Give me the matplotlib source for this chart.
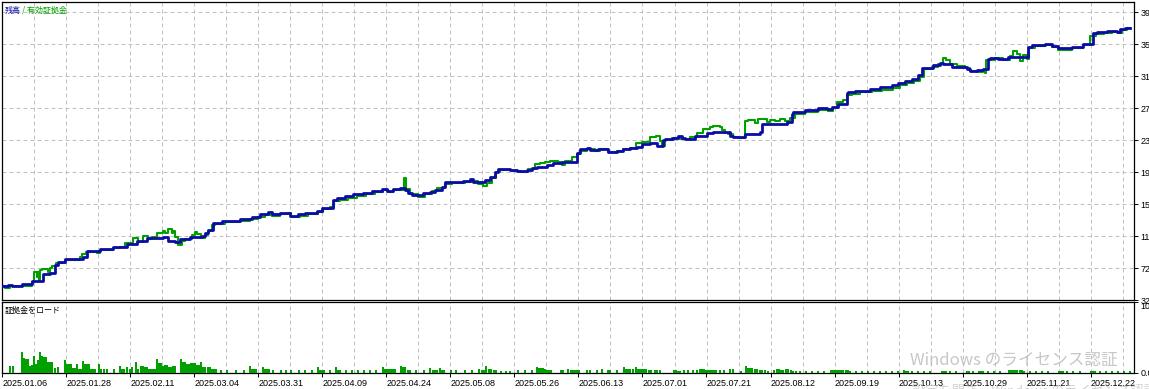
import numpy as np
import matplotlib
matplotlib.use("Agg")
import matplotlib.pyplot as plt

# balance / equity step points: (deal index, value in thousands)
balance_x = [0, 8, 12, 22, 32, 43, 50, 55, 58, 65, 83, 87, 100, 113, 127, 137, 147, 163, 168, 175,
             180, 190, 202, 205, 208, 213, 222, 240, 252, 260, 268, 272, 280, 290, 298, 305, 317, 322,
             333, 337, 345, 353, 363, 372, 382, 387, 393, 400, 405, 408, 412, 423, 430, 435, 442, 445,
             452, 463, 470, 473, 480, 485, 490, 495, 498, 510, 517, 527, 532, 537, 547, 553, 562, 572,
             577, 580, 587, 590, 598, 608, 617, 623, 630, 637, 642, 650, 657, 663, 665, 673, 678, 682,
             685, 695, 707, 713, 727, 730, 733, 745, 760, 762, 787, 792, 793, 805, 818, 827, 832, 838,
             847, 848, 855, 870, 880, 892, 898, 905, 912, 918, 922, 933, 940, 943, 952, 957, 967, 970,
             977, 983, 988, 990, 998, 1008, 1028, 1032, 1045, 1052, 1058, 1072, 1083, 1093, 1097, 1107,
             1117, 1120, 1125, 1130]
balance_y = [49.5, 50.8, 49.5, 52.0, 55.4, 64.5, 66.1, 75.8, 79.5, 82.9, 85.4, 93.3, 95.4, 98.6, 102.0,
             106.1, 109.1, 110.4, 106.1, 104.9, 107.9, 110.4, 112.0, 115.4, 119.5, 128.6, 130.8, 132.9,
             136.1, 139.5, 141.6, 139.5, 140.4, 137.0, 139.1, 141.1, 143.3, 146.6, 157.0, 159.1, 162.0,
             164.5, 166.1, 168.3, 170.8, 168.3, 170.8, 171.6, 169.5, 165.4, 163.6, 165.4, 166.6, 169.5,
             173.6, 179.1, 179.9, 181.1, 183.3, 179.9, 179.1, 182.0, 186.1, 191.6, 195.4, 194.5, 193.3,
             194.5, 196.6, 198.6, 200.8, 202.9, 204.1, 204.9, 215.8, 220.4, 221.6, 219.5, 220.4, 217.4,
             218.6, 220.4, 222.4, 223.6, 226.6, 227.9, 224.5, 232.0, 232.9, 234.9, 237.0, 234.1, 233.3,
             237.0, 240.4, 241.6, 242.4, 237.0, 236.1, 239.5, 241.6, 251.6, 254.6, 264.5, 266.6, 269.5,
             271.6, 270.4, 273.6, 277.0, 290.4, 291.6, 293.6, 295.8, 297.9, 300.4, 303.4, 306.3, 308.4,
             313.3, 322.4, 325.8, 328.6, 327.0, 323.6, 322.9, 320.8, 317.9, 320.0, 320.8, 332.9, 334.1,
             333.3, 335.4, 348.6, 350.8, 351.6, 349.5, 346.6, 347.9, 351.6, 365.4, 366.6, 368.3, 367.4,
             370.4, 372.4, 372.4]

equity_x = [0, 5, 10, 32, 34, 37, 38, 39, 40, 42, 48, 50, 52, 56, 65, 80, 82, 86, 97, 100, 113, 120, 125,
            133, 138, 143, 148, 152, 157, 163, 165, 168, 172, 173, 175, 178, 182, 185, 192, 195, 197, 201,
            205, 208, 212, 215, 225, 240, 250, 258, 265, 272, 280, 288, 291, 300, 308, 318, 323, 330, 334,
            340, 348, 357, 366, 375, 383, 388, 393, 404, 406, 410, 418, 425, 432, 437, 445, 452, 465, 472,
            478, 483, 487, 492, 496, 500, 512, 520, 528, 535, 540, 545, 550, 558, 562, 565, 572, 577, 580,
            587, 595, 600, 608, 617, 623, 630, 636, 642, 650, 656, 660, 662, 665, 672, 680, 690, 697, 703,
            710, 713, 720, 722, 725, 728, 733, 738, 745, 748, 755, 758, 767, 770, 775, 780, 785, 790, 795,
            805, 818, 828, 833, 837, 843, 847, 852, 860, 872, 882, 893, 900, 907, 914, 920, 924, 932, 938,
            943, 946, 950, 957, 965, 970, 977, 983, 985, 986, 995, 1003, 1010, 1013, 1017, 1020, 1023,
            1027, 1029, 1035, 1045, 1052, 1058, 1072, 1083, 1090, 1096, 1104, 1112, 1118, 1122, 1127, 1130]
equity_y = [49.5, 47.0, 49.5, 54.9, 67.4, 61.1, 67.4, 57.0, 69.5, 70.4, 67.4, 72.0, 74.5, 78.6, 82.0, 85.4,
            89.5, 92.4, 91.1, 94.5, 96.6, 98.6, 103.6, 109.1, 104.9, 112.0, 107.9, 110.4, 115.4, 118.6,
            116.1, 120.8, 115.4, 118.3, 111.1, 100.8, 106.1, 107.9, 113.3, 117.4, 114.5, 109.6, 113.8,
            118.3, 125.8, 127.6, 129.5, 130.8, 133.3, 135.8, 138.3, 137.6, 138.9, 140.8, 135.8, 137.6,
            139.5, 142.0, 145.8, 148.3, 155.8, 157.6, 160.1, 162.6, 165.1, 167.0, 168.9, 167.0, 169.5,
            184.1, 170.8, 164.5, 161.1, 163.9, 168.3, 172.0, 177.0, 178.3, 179.5, 180.8, 177.0, 174.5,
            178.3, 184.5, 192.0, 194.5, 193.3, 192.0, 195.6, 202.5, 203.4, 204.4, 206.3, 204.4, 200.4,
            205.6, 211.3, 215.0, 218.4, 220.5, 218.6, 220.5, 216.9, 218.1, 220.5, 221.8, 228.6, 229.6,
            235.5, 236.8, 230.5, 224.1, 231.8, 234.6, 233.1, 235.5, 240.5, 245.5, 248.0, 249.1, 248.0,
            244.8, 241.0, 239.4, 235.5, 235.1, 255.4, 257.5, 253.4, 257.9, 254.5, 257.0, 255.8, 258.3,
            255.8, 259.5, 264.5, 267.0, 269.5, 268.3, 272.0, 279.9, 282.0, 288.3, 289.5, 291.4, 293.3,
            295.1, 297.6, 300.8, 303.3, 305.8, 310.8, 320.8, 323.3, 327.0, 334.6, 332.5, 327.0, 324.5,
            322.0, 318.3, 317.0, 319.5, 316.3, 332.6, 333.9, 332.0, 337.0, 343.4, 340.0, 330.9, 338.4,
            333.8, 347.5, 349.4, 350.8, 348.3, 345.1, 347.5, 350.6, 361.6, 365.0, 365.9, 367.5, 365.6,
            370.0, 372.1, 372.1]

# margin load (%)
load_x = [10, 13, 22, 24, 26, 28, 30, 32, 34, 36, 38, 40, 42, 44, 46, 48, 50, 52, 55, 58, 65, 67, 69, 71,
          73, 75, 77, 79, 81, 83, 85, 87, 89, 91, 93, 95, 99, 101, 104, 107, 114, 120, 122, 124, 127, 130,
          132, 136, 138, 141, 143, 145, 147, 149, 151, 153, 155, 157, 159, 161, 163, 165, 167, 169, 171,
          173, 175, 181, 183, 185, 187, 189, 191, 193, 195, 197, 199, 201, 203, 205, 208, 210, 212, 214,
          216, 221, 227, 236, 244, 250, 252, 254, 256, 263, 265, 267, 269, 273, 281, 286, 291, 299, 305,
          312, 318, 320, 322, 324, 330, 336, 338, 340, 346, 352, 358, 364, 370, 376, 383, 385, 387, 389,
          391, 393, 395, 401, 403, 405, 408, 410, 416, 424, 430, 433, 435, 437, 440, 442, 444, 451, 456,
          465, 472, 479, 482, 484, 486, 489, 491, 494, 496, 501, 506, 510, 518, 525, 532, 537, 539, 541,
          543, 545, 547, 549, 551, 561, 563, 568, 571, 573, 575, 577, 579, 587, 590, 597, 602, 608, 610,
          617, 624, 626, 628, 630, 633, 636, 638, 640, 642, 644, 646, 649, 651, 655, 657, 660, 674, 676,
          678, 680, 684, 688, 693, 697, 700, 702, 704, 706, 708, 710, 712, 714, 716, 720, 724, 730, 733,
          741, 746, 748, 750, 752, 755, 757, 760, 762, 765, 768, 774, 777, 779, 781, 783, 786, 788, 791,
          793, 796, 800, 806, 812, 818, 824, 831, 833, 835, 837, 839, 841, 843, 846, 848, 850, 856, 862,
          868, 874, 880, 886, 892, 898, 904, 906, 908, 912, 918, 924, 930, 942, 944, 946, 950, 956, 967,
          969, 973, 979, 981, 983, 988, 994, 1000, 1009, 1011, 1013, 1015, 1017, 1020, 1022, 1024, 1030,
          1036, 1042, 1048, 1059, 1061, 1063, 1067, 1073, 1080, 1091, 1093, 1095, 1100, 1106, 1112, 1118,
          1124, 1130]
load_h = [1.0, 1.0, 3.0, 2.1, 2.0, 2.0, 0.95, 1.1, 2.35, 1.3, 1.8, 3.0, 2.35, 2.2, 2.2, 1.5, 1.5, 1.5, 0.7,
          0.8, 1.9, 1.3, 1.3, 1.3, 0.7, 0.7, 1.2, 0.55, 0.55, 1.7, 1.2, 1.2, 1.2, 0.6, 0.6, 0.6, 1.3, 0.55,
          0.6, 0.6, 0.55, 1.0, 0.55, 0.55, 0.9, 0.6, 0.9, 1.5, 0.6, 1.0, 1.0, 0.85, 0.85, 0.55, 0.55, 0.55,
          0.55, 2.0, 1.4, 1.4, 1.0, 1.1, 1.1, 0.85, 0.85, 1.0, 1.0, 2.0, 1.6, 1.6, 1.2, 1.2, 1.4, 1.4, 1.4,
          1.1, 1.1, 1.5, 0.9, 0.9, 0.8, 0.8, 0.55, 0.55, 0.55, 0.47, 0.47, 0.47, 0.47, 1.0, 0.55, 0.55,
          0.55, 0.9, 0.55, 0.55, 0.55, 0.47, 0.47, 0.47, 0.47, 0.47, 0.47, 0.47, 0.8, 0.4, 0.4, 0.4, 0.4,
          0.8, 0.4, 0.4, 0.4, 0.4, 0.4, 0.4, 0.4, 0.4, 0.8, 0.6, 0.6, 0.6, 0.6, 0.6, 0.6, 1.0, 0.85, 0.85,
          0.47, 0.47, 0.38, 0.38, 0.7, 0.47, 0.47, 0.47, 0.7, 0.38, 0.38, 0.38, 0.38, 0.38, 0.38, 0.6,
          0.47, 0.47, 1.0, 0.56, 0.56, 0.38, 0.38, 0.33, 0.33, 0.33, 0.38, 0.38, 0.38, 0.85, 0.65, 0.65,
          0.65, 0.56, 0.47, 0.47, 0.47, 0.47, 0.47, 0.56, 0.47, 0.47, 0.47, 0.47, 0.47, 0.38, 0.38, 0.38,
          0.56, 0.38, 0.38, 0.38, 0.85, 0.6, 0.6, 0.6, 0.56, 0.85, 0.56, 0.56, 0.56, 0.56, 0.56, 0.47,
          0.47, 0.47, 0.47, 0.47, 0.47, 0.47, 0.3, 0.3, 0.47, 0.38, 0.47, 0.47, 0.6, 0.56, 0.56, 0.47,
          0.47, 0.47, 0.47, 0.38, 0.38, 0.38, 0.38, 0.56, 0.56, 0.3, 1.0, 0.7, 0.7, 0.7, 0.6, 0.6, 0.47,
          0.47, 0.47, 0.3, 0.47, 0.6, 0.6, 0.47, 0.47, 0.6, 0.6, 0.47, 0.3, 0.3, 0.25, 0.25, 0.25, 0.25,
          0.25, 0.45, 0.45, 0.4, 0.4, 0.4, 0.4, 0.4, 0.4, 0.4, 0.25, 0.25, 0.25, 0.25, 0.25, 0.25, 0.25,
          0.25, 0.25, 0.45, 0.35, 0.35, 0.25, 0.25, 0.25, 0.25, 0.35, 0.35, 0.35, 0.25, 0.25, 0.35, 0.35,
          0.25, 0.35, 0.35, 0.35, 0.25, 0.25, 0.25, 0.45, 0.45, 0.4, 0.4, 0.4, 0.4, 0.4, 0.25, 0.25, 0.25,
          0.25, 0.25, 0.35, 0.35, 0.35, 0.25, 0.25, 0.25, 0.35, 0.35, 0.35, 0.25, 0.25, 0.25, 0.25, 0.25,
          0.25]

date_labels = ["2025.01.06", "2025.01.28", "2025.02.11", "2025.03.04", "2025.03.31", "2025.04.09",
               "2025.04.24", "2025.05.08", "2025.05.26", "2025.06.13", "2025.07.01", "2025.07.21",
               "2025.08.12", "2025.09.19", "2025.10.13", "2025.10.29", "2025.11.21", "2025.12.22"]
y_ticks = [32, 72, 112, 152, 192, 232, 272, 312, 352, 392]
y_labels = ["32", "72", "11", "15", "19", "23", "27", "31", "35", "39"]

W, H = 1149, 389
BLUE = "#0c0ca4"
GREEN = "#00a000"
GRID = "#c0c0c0"
TICK_FONT = "Liberation Sans"
CJK = ["Noto Sans CJK JP", "DejaVu Sans"]

fig = plt.figure(figsize=(W / 100, H / 100), dpi=100)
fig.patch.set_facecolor("white")

def px_axes(left, top, right, bottom):
    return fig.add_axes([left / W, 1 - bottom / H, (right - left) / W, (bottom - top) / H])

ax = px_axes(2, 2, 1134, 300)
ax2 = px_axes(2, 302, 1134, 373)

x_lo, x_hi = 2, 1134
grid_x = np.arange(2.3 + 32.01, x_hi, 32.01)
label_x = np.linspace(2.3, 1090.6, len(date_labels))

# main panel
ax.plot(equity_x, equity_y, drawstyle="steps-post", color=GREEN, lw=1.5, zorder=3)
ax.plot(balance_x, balance_y, drawstyle="steps-post", color=BLUE, lw=2.0, zorder=4)
ax.set_xlim(x_lo, x_hi)
ax.set_ylim(32, 32 + 298 / 32 * 40)
for gx in grid_x:
    ax.axvline(gx, color=GRID, lw=0.72, dashes=(4, 3), zorder=1)
for gy in y_ticks[1:]:
    ax.axhline(gy, color=GRID, lw=0.72, dashes=(4, 3), zorder=1)
ax.yaxis.tick_right()
ax.set_yticks(y_ticks)
ax.set_yticklabels(y_labels, fontsize=6.5, family=TICK_FONT)
ax.tick_params(axis="y", length=3, width=0.7, pad=1.5, direction="out")
ax.set_xticks([])

# margin load panel
ax2.bar(load_x, load_h, width=1.8, color=GREEN, align="center", zorder=3)
ax2.set_xlim(x_lo, x_hi)
ax2.set_ylim(0, 10)
for gx in grid_x:
    ax2.axvline(gx, color=GRID, lw=0.72, dashes=(4, 3), zorder=1)
ax2.yaxis.tick_right()
ax2.set_yticks([0, 10])
ax2.set_yticklabels(["0.0", "10"], fontsize=6.5, family=TICK_FONT)
ax2.get_yticklabels()[1].set_va("top")
ax2.tick_params(axis="y", length=3, width=0.7, pad=1.5, direction="out")
ax2.set_xticks(label_x)
ax2.set_xticklabels(date_labels, fontsize=6.5, family=TICK_FONT, ha="left")
ax2.tick_params(axis="x", length=3, width=0.7, pad=1.5, direction="out")

for a in (ax, ax2):
    for s in a.spines.values():
        s.set_color("black")
        s.set_linewidth(0.9)

# panel captions
t1 = fig.text(5 / W, 1 - 10 / H, "残高", color=BLUE, fontsize=5.8, family=CJK, va="center", ha="left")
fig.canvas.draw()
bb = t1.get_window_extent()
fig.text((bb.x1 + 1) / W, 1 - 10 / H, "/ 有効証拠金", color=GREEN, fontsize=5.8, family=CJK,
         va="center", ha="left")
fig.text(5 / W, 1 - 310 / H, "証拠金をロード", color="black", fontsize=5.8, family=CJK,
         va="center", ha="left")

# Windows activation overlay
fig.text(910 / W, 1 - 360 / H, "Windows のライセンス認証", color="#bdbdbd", fontsize=12,
         family=CJK, va="center", ha="left", alpha=0.85, zorder=10)
fig.text(912 / W, 1 - 392 / H, "設定を開き、Windows のライセンス認証を行ってください。",
         color="#c8c8c8", fontsize=9.5, family=CJK, va="center", ha="left", alpha=0.8, zorder=10)

fig.savefig("out.png", dpi=100)
